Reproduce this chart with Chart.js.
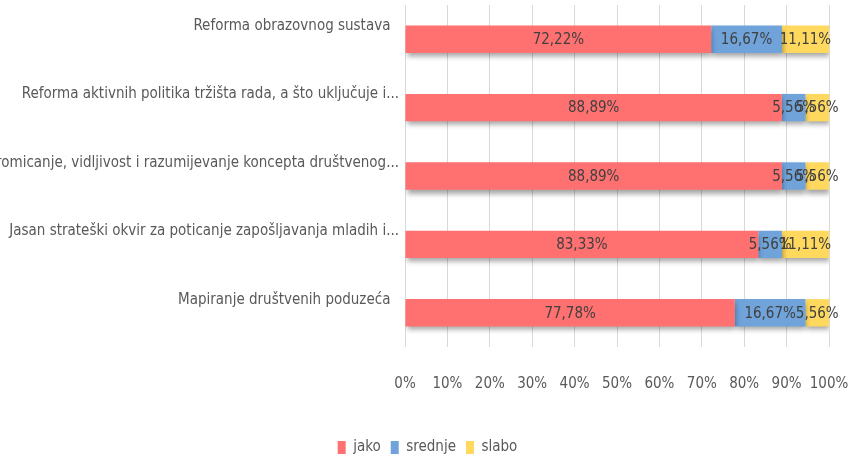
<!DOCTYPE html>
<html><head><meta charset="utf-8">
<script src="https://cdn.jsdelivr.net/npm/chart.js@4/dist/chart.umd.min.js"></script>
<style>html,body{margin:0;padding:0;background:#fff}#wrap{width:853px;height:459px;position:relative}</style>
</head><body><div id="wrap"><canvas id="c"></canvas></div>
<script>
const categories = [
  'Reforma obrazovnog sustava  ',
  'Reforma aktivnih politika tržišta rada, a što uključuje i...',
  'Promicanje, vidljivost i razumijevanje koncepta društvenog...',
  'Jasan strateški okvir za poticanje zapošljavanja mladih i...',
  'Mapiranje društvenih poduzeća  '
];
const seriesNames = ['jako', 'srednje', 'slabo'];
const jako = [72.22, 88.89, 88.89, 83.33, 77.78];
const srednje = [16.67, 5.56, 5.56, 5.56, 16.67];
const slabo = [11.11, 5.56, 5.56, 11.11, 5.56];
const xTickLabels = ['0%','10%','20%','30%','40%','50%','60%','70%','80%','90%','100%'];

const FONT = "'DejaVu Sans Condensed', 'Liberation Sans Narrow', sans-serif";
const TXT = '#595959';

const shadowPlugin = {
  id: 'barShadow',
  beforeDatasetDraw(chart) {
    const ctx = chart.ctx;
    ctx.save();
    ctx.shadowColor = 'rgba(0,0,0,0.35)';
    ctx.shadowBlur = 5;
    ctx.shadowOffsetX = 1;
    ctx.shadowOffsetY = 4;
  },
  afterDatasetDraw(chart) {
    chart.ctx.restore();
  }
};

const legendShift = {
  id: 'legendShift',
  afterLayout(chart) {
    const l = chart.legend;
    if (l) { l.left += 13; l.right += 13; }
  }
};

const dataLabelPlugin = {
  id: 'dataLabels',
  afterDatasetsDraw(chart) {
    const ctx = chart.ctx;
    ctx.save();
    ctx.font = '15px ' + FONT;
    ctx.fillStyle = '#404040';
    ctx.textAlign = 'center';
    ctx.textBaseline = 'middle';
    chart.data.datasets.forEach((ds, di) => {
      const meta = chart.getDatasetMeta(di);
      meta.data.forEach((el, i) => {
        const p = el.getCenterPoint();
        const v = ds.data[i];
        ctx.fillText(v.toFixed(2).replace('.', ',') + '%', p.x, p.y + 1);
      });
    });
    ctx.restore();
  }
};

new Chart(document.getElementById('c'), {
  type: 'bar',
  data: {
    labels: categories,
    datasets: [
      { label: seriesNames[0], data: jako, backgroundColor: '#FF7070' },
      { label: seriesNames[1], data: srednje, backgroundColor: '#6FA3DA' },
      { label: seriesNames[2], data: slabo, backgroundColor: '#FFD85E' }
    ]
  },
  options: {
    indexAxis: 'y',
    responsive: true,
    maintainAspectRatio: false,
    animation: false,
    barPercentage: 0.4,
    categoryPercentage: 1.0,
    layout: { padding: { top: 5, right: 24, left: 0, bottom: -6 } },
    scales: {
      x: {
        stacked: true,
        min: 0, max: 100,
        ticks: {
          stepSize: 10,
          color: TXT,
          font: { family: FONT, size: 15 },
          padding: 28,
          maxRotation: 0,
          minRotation: 0,
          autoSkip: false,
          callback: (v, i) => xTickLabels[Math.round(v / 10)]
        },
        grid: { color: '#D9D9D9', drawTicks: false },
        border: { display: false },
        afterFit(scale) { scale.height = 83; scale.paddingLeft = 0; scale.paddingRight = 0; }
      },
      y: {
        stacked: true,
        ticks: {
          color: TXT,
          font: { family: FONT, size: 15 },
          labelOffset: -13,
          padding: 6
        },
        grid: { display: false, drawTicks: false },
        border: { display: false },
        afterFit(scale) { scale.width = 405; scale.paddingTop = 0; scale.paddingBottom = 0; }
      }
    },
    plugins: {
      legend: {
        position: 'bottom',
        labels: {
          color: TXT,
          font: { family: FONT, size: 15 },
          boxWidth: 8,
          boxHeight: 13,
          padding: 10
        }
      },
      tooltip: { enabled: false }
    }
  },
  plugins: [shadowPlugin, dataLabelPlugin, legendShift]
});
</script>
</body></html>
